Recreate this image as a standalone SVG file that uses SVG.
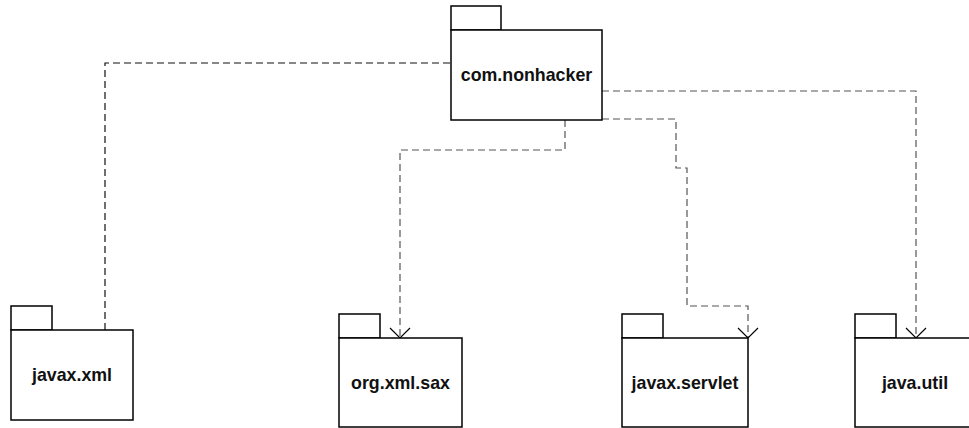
<svg xmlns="http://www.w3.org/2000/svg" width="969" height="428" viewBox="0 0 969 428">
<style>
.tab,.body{fill:#fff;stroke:#000;stroke-width:1.5}
.lbl{font-family:"Liberation Sans",Arial,sans-serif;font-weight:bold;font-size:17.8px;fill:#111;text-anchor:middle}
.dep{fill:none;stroke:#555;stroke-width:1.2;stroke-dasharray:7 4}
.dep.dark{stroke:#111}
</style>
<defs>
<marker id="open" viewBox="-12 -12 24 24" markerWidth="24" markerHeight="24" refX="0" refY="0" orient="auto" markerUnits="userSpaceOnUse" overflow="visible">
<path d="M-10,-10 L0,0 L-10,10" fill="none" stroke="#000" stroke-width="1.2"/>
</marker>
</defs>
<g id="connectors">
<path class="dep dark" d="M105,330 V63 H451"/>
<path class="dep" d="M565,120 V150 H400 V338" marker-end="url(#open)"/>
<path class="dep" d="M602,119 H676 V168 H687 V306 H748 V338" marker-end="url(#open)"/>
<path class="dep" d="M602,91 H916 V338" marker-end="url(#open)"/>
</g>
<g id="com.nonhacker">
<rect class="tab" x="451" y="6" width="50" height="24"/>
<rect class="body" x="451" y="30" width="151" height="90"/>
<text class="lbl" x="526.5" y="81">com.nonhacker</text>
</g>
<g id="javax.xml">
<rect class="tab" x="11" y="306" width="41" height="24"/>
<rect class="body" x="11" y="330" width="122" height="90"/>
<text class="lbl" x="72" y="381">javax.xml</text>
</g>
<g id="org.xml.sax">
<rect class="tab" x="339" y="314" width="41" height="24"/>
<rect class="body" x="339" y="338" width="123" height="89"/>
<text class="lbl" x="400.5" y="388.5">org.xml.sax</text>
</g>
<g id="javax.servlet">
<rect class="tab" x="622" y="314" width="41" height="24"/>
<rect class="body" x="622" y="338" width="126" height="89"/>
<text class="lbl" x="685" y="388.5">javax.servlet</text>
</g>
<g id="java.util">
<rect class="tab" x="855" y="314" width="41" height="24"/>
<rect class="body" x="855" y="338" width="120" height="89"/>
<text class="lbl" x="915" y="388.5">java.util</text>
</g>
</svg>
